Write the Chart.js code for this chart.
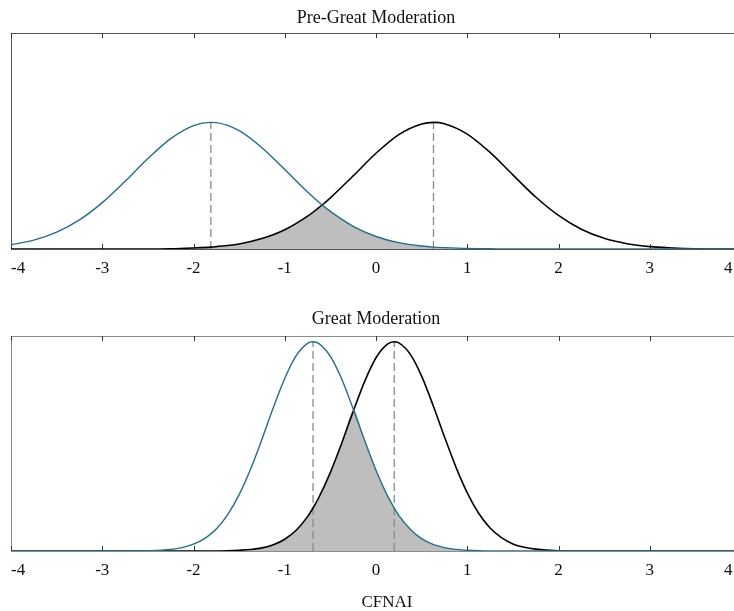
<!DOCTYPE html>
<html>
<head>
<meta charset="utf-8">
<script src="https://cdn.jsdelivr.net/npm/chart.js@4/dist/chart.umd.min.js"></script>
<style>
  html, body { margin: 0; padding: 0; background: #fff; overflow: hidden; }
  .panel { position: absolute; left: 0; }
</style>
</head>
<body>
<div class="panel" style="top:0"><canvas id="topChart" width="745" height="289"></canvas></div>
<div class="panel" style="top:300px"><canvas id="botChart" width="745" height="311"></canvas></div>
<script>
// values
var topTitle = 'Pre-Great Moderation';
var botTitle = 'Great Moderation';
var axisTitle = 'CFNAI';

var topX = [-4, -3.75, -3.5, -3.25, -3, -2.75, -2.5, -2.25, -2, -1.81, -1.75, -1.5, -1.25, -1, -0.75, -0.59, -0.5, -0.25, 0, 0.25, 0.5, 0.63, 0.75, 1, 1.25, 1.5, 1.75, 2, 2.25, 2.5, 2.75, 3, 3.25, 3.5, 3.75, 4];
var topBlue = [0.016, 0.033, 0.063, 0.109, 0.174, 0.254, 0.339, 0.414, 0.463, 0.475, 0.474, 0.444, 0.380, 0.298, 0.214, 0.165, 0.141, 0.085, 0.047, 0.024, 0.011, 0.007, 0.005, 0.002, 0.001, 0, 0, 0, 0, 0, 0, 0, 0, 0, 0, 0];
var topBlack = [0, 0, 0, 0, 0, 0, 0, 0.001, 0.004, 0.007, 0.009, 0.019, 0.039, 0.072, 0.123, 0.165, 0.192, 0.274, 0.359, 0.429, 0.469, 0.475, 0.470, 0.431, 0.362, 0.278, 0.195, 0.126, 0.074, 0.040, 0.020, 0.009, 0.004, 0.001, 0, 0];
var topMeans = [-1.81, 0.63];
var topPeak = 0.475;

var botX = [-4, -3.75, -3.5, -3.25, -3, -2.75, -2.5, -2.25, -2.125, -2, -1.875, -1.75, -1.625, -1.5, -1.375, -1.25, -1.125, -1, -0.875, -0.75, -0.69, -0.625, -0.5, -0.375, -0.245, -0.125, 0, 0.125, 0.2, 0.25, 0.375, 0.5, 0.625, 0.75, 0.875, 1, 1.125, 1.25, 1.375, 1.5, 1.625, 1.75, 2, 2.25, 2.5, 2.75, 3, 3.25, 3.5, 3.75, 4];
var botBlue = [0, 0, 0, 0, 0, 0, 0.001, 0.006, 0.013, 0.026, 0.048, 0.084, 0.139, 0.215, 0.312, 0.426, 0.547, 0.658, 0.745, 0.792, 0.798, 0.791, 0.742, 0.655, 0.537, 0.422, 0.308, 0.211, 0.164, 0.136, 0.083, 0.047, 0.025, 0.013, 0.006, 0.003, 0.001, 0, 0, 0, 0, 0, 0, 0, 0, 0, 0, 0, 0, 0, 0];
var botBlack = [0, 0, 0, 0, 0, 0, 0, 0, 0, 0, 0, 0, 0.001, 0.003, 0.006, 0.012, 0.024, 0.045, 0.079, 0.131, 0.164, 0.205, 0.300, 0.412, 0.537, 0.646, 0.737, 0.789, 0.798, 0.794, 0.751, 0.667, 0.556, 0.436, 0.321, 0.222, 0.144, 0.088, 0.051, 0.027, 0.014, 0.007, 0.001, 0, 0, 0, 0, 0, 0, 0, 0];
var botMeans = [-0.69, 0.2];
var botPeak = 0.798;

var xTicks = [-4, -3, -2, -1, 0, 1, 2, 3, 4];

var serif = "'Liberation Serif', 'DejaVu Serif', serif";

// frame box, inward tick marks and the x label, like the matlab figure
var framePlugin = {
  id: 'frame',
  beforeDatasetsDraw: function (chart, args, opts) {
    var ctx = chart.ctx;
    var a = chart.chartArea;
    var xs = chart.scales.x;
    ctx.save();
    ctx.strokeStyle = opts.color || '#555';
    ctx.lineWidth = 1;
    ctx.strokeRect(a.left + 0.5, a.top + 0.5, a.right - a.left, a.bottom - a.top);
    ctx.strokeStyle = '#333';
    xs.ticks.forEach(function (t) {
      var px = Math.round(xs.getPixelForValue(t.value)) + 0.5;
      ctx.beginPath();
      ctx.moveTo(px, a.bottom);
      ctx.lineTo(px, a.bottom - 5);
      ctx.moveTo(px, a.top);
      ctx.lineTo(px, a.top + 5);
      ctx.stroke();
    });
    if (opts.xLabel) {
      ctx.fillStyle = '#111';
      ctx.font = '17px ' + serif;
      ctx.textAlign = 'center';
      ctx.textBaseline = 'middle';
      ctx.fillText(opts.xLabel, xs.getPixelForValue(0.12), a.bottom + 52);
    }
    ctx.restore();
  }
};

function makeChart(id, title, xs, blue, black, means, peak, yMax, xLabel, titlePad, axisHeight, frameColor) {
  var shade = xs.map(function (x, i) { return { x: x, y: Math.min(blue[i], black[i]) }; });
  var blueData = xs.map(function (x, i) { return { x: x, y: blue[i] }; });
  var blackData = xs.map(function (x, i) { return { x: x, y: black[i] }; });
  var dashed = means.map(function (m) {
    return {
      data: [{ x: m, y: 0 }, { x: m, y: peak }],
      borderColor: '#8a8a8a',
      borderWidth: 1.3,
      borderDash: [8, 4],
      pointRadius: 0,
      fill: false,
      order: 5
    };
  });

  var datasets = [
    {
      data: blueData,
      borderColor: '#1f6f8d',
      borderWidth: 1.4,
      pointRadius: 0,
      cubicInterpolationMode: 'monotone',
      fill: false,
      order: 1
    },
    {
      data: blackData,
      borderColor: '#000',
      borderWidth: 1.6,
      pointRadius: 0,
      cubicInterpolationMode: 'monotone',
      fill: false,
      order: 2
    },
    {
      data: shade,
      borderWidth: 0,
      borderColor: 'rgba(0,0,0,0)',
      backgroundColor: '#bfbebe',
      pointRadius: 0,
      cubicInterpolationMode: 'monotone',
      fill: 'origin',
      order: 10
    }
  ].concat(dashed);

  return new Chart(document.getElementById(id), {
    type: 'line',
    data: { datasets: datasets },
    plugins: [framePlugin],
    options: {
      responsive: false,
      animation: false,
      layout: { padding: { left: 11, right: 4, top: 0, bottom: 0 } },
      plugins: {
        legend: { display: false },
        tooltip: { enabled: false },
        frame: { xLabel: xLabel, color: frameColor },
        title: {
          display: true,
          text: title,
          color: '#111',
          font: { family: serif, size: 18, weight: 'normal', lineHeight: 1.2 },
          padding: titlePad
        }
      },
      scales: {
        x: {
          type: 'linear',
          min: -4,
          max: 4,
          afterBuildTicks: function (s) {
            s.ticks = xTicks.map(function (v) { return { value: v }; });
          },
          afterFit: function (s) {
            s.height = axisHeight;
            s.paddingLeft = 0;
            s.paddingRight = 0;
          },
          grid: { display: false, drawTicks: false },
          border: { display: false },
          ticks: {
            color: '#111',
            padding: 9,
            maxRotation: 0,
            align: 'inner',
            font: { family: serif, size: 17 },
            callback: function (v) {
              // last label sits a little inside the frame, as in the figure
              return v === 4 ? '4\u00a0\u00a0' : String(v);
            }
          }
        },
        y: {
          display: false,
          min: 0,
          max: yMax
        }
      }
    }
  });
}

makeChart('topChart', topTitle, topX, topBlue, topBlack, topMeans, topPeak, 0.81, '', { top: 7, bottom: 4.4 }, 40, '#555');
makeChart('botChart', botTitle, botX, botBlue, botBlack, botMeans, botPeak, 0.82, axisTitle, { top: 8, bottom: 6.4 }, 60, '#8c8c8c');
</script>
</body>
</html>
